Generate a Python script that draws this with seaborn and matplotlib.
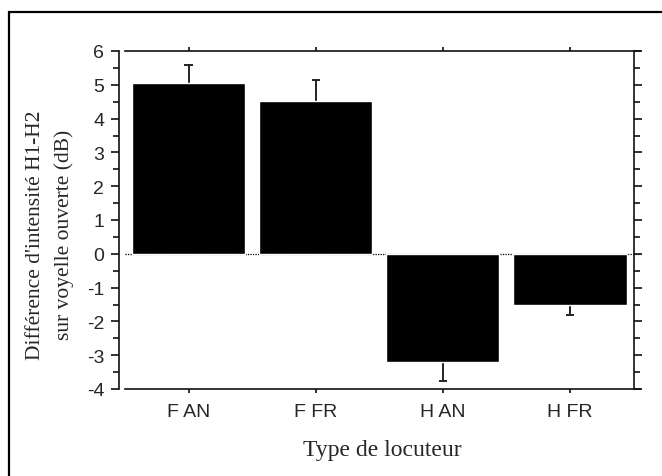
import matplotlib
matplotlib.use('Agg')
import matplotlib.pyplot as plt
from matplotlib.patches import Rectangle
from matplotlib.ticker import MultipleLocator
import seaborn as sns

# values
categories = ['F AN', 'F FR', 'H AN', 'H FR']
means = [5.05, 4.51, -3.20, -1.51]
errors = [0.54, 0.63, 0.56, 0.29]

sns.set_style('white')
plt.rcParams['font.family'] = ['Liberation Sans', 'DejaVu Sans']
plt.rcParams['axes.unicode_minus'] = False

fig = plt.figure(figsize=(6.62, 4.77), dpi=100)
ax = fig.add_axes([125 / 662, 1 - 390 / 477, 515 / 662, 338 / 477])

# zero reference line
ax.axhline(0, color='black', lw=0.9, ls=(0, (1, 1)), zorder=0)

sns.barplot(x=categories, y=means, color='black', saturation=1,
            width=0.89, errorbar=None, ax=ax, zorder=2)

# one-sided error bars (away from zero), cap only at the tip
pos = list(range(len(categories)))
tips = [m + e if m >= 0 else m - e for m, e in zip(means, errors)]
cap = 0.033
ax.vlines(pos, means, tips, color='#222222', lw=1.4, zorder=1)
ax.hlines(tips, [p - cap for p in pos], [p + cap for p in pos],
          color='#222222', lw=1.4, zorder=1)

ax.set_xlim(-0.5, 3.55)
ax.set_ylim(-4, 6)
ax.yaxis.set_major_locator(MultipleLocator(1))
ax.yaxis.set_minor_locator(MultipleLocator(0.5))

for s in ['left', 'right', 'top', 'bottom']:
    ax.spines[s].set_visible(True)
    ax.spines[s].set_color('#111111')
    ax.spines[s].set_linewidth(1.2)
ax.spines['left'].set_position(('outward', 4))
ax.spines['right'].set_position(('data', 3.5))

ax.tick_params(axis='y', which='both', direction='out', left=True, right=True,
               labelright=False, width=1.2, color='#111111')
ax.tick_params(axis='y', which='major', length=6, pad=5, labelsize=14)
ax.tick_params(axis='y', which='minor', length=4.5)
ax.tick_params(axis='x', which='major', direction='out', top=True, bottom=True,
               length=3, width=1.2, color='#111111', pad=7, labelsize=14)

ax.set_xlabel('Type de locuteur', family='Liberation Serif', fontsize=17)
ax.xaxis.set_label_coords(0.5, -0.148)
ax.set_ylabel("Différence d'intensité H1-H2\nsur voyelle ouverte (dB)",
              family='Liberation Serif', fontsize=15.5, linespacing=1.65)
ax.yaxis.set_label_coords(-0.099, 0.458)

# outer frame of the figure
fig.add_artist(Rectangle((9 / 662, -0.1), 1.2, 0.1 + 1 - 13 / 477, fill=False,
                         lw=1.6, edgecolor='black', transform=fig.transFigure,
                         clip_on=False))

fig.savefig('out.png', dpi=100)
